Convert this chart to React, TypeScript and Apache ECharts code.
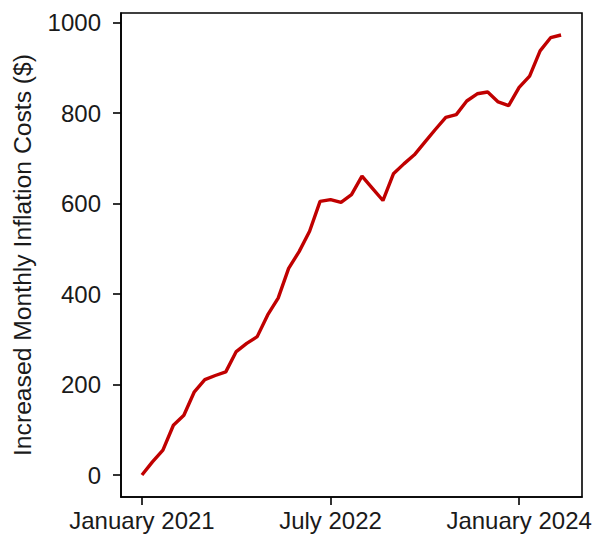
import React, { useEffect, useRef } from "react";
import * as echarts from "echarts";

// Monthly observations, January 2021 – May 2024
const months: string[] = [
  "2021-01", "2021-02", "2021-03", "2021-04", "2021-05", "2021-06", "2021-07", "2021-08", "2021-09", "2021-10", "2021-11", "2021-12",
  "2022-01", "2022-02", "2022-03", "2022-04", "2022-05", "2022-06", "2022-07", "2022-08", "2022-09", "2022-10", "2022-11", "2022-12",
  "2023-01", "2023-02", "2023-03", "2023-04", "2023-05", "2023-06", "2023-07", "2023-08", "2023-09", "2023-10", "2023-11", "2023-12",
  "2024-01", "2024-02", "2024-03", "2024-04", "2024-05",
];

const costs: number[] = [
  0, 29, 55, 110, 132, 184, 211, 220, 228, 273, 291, 306,
  354, 391, 457, 494, 539, 605, 609, 603, 620, 661, 634, 607,
  666, 688, 708, 736, 764, 791, 797, 827, 843, 847, 825, 817,
  857, 882, 938, 967, 973,
];

const xTickMonths: string[] = ["2021-01", "2022-07", "2024-01"];
const xTickLabels: string[] = ["January 2021", "July 2022", "January 2024"];
const yTicks: number[] = [0, 200, 400, 600, 800, 1000];

const yAxisTitle = "Increased Monthly Inflation Costs ($)";

function monthOffset(m: string): number {
  const [y, mo] = m.split("-").map(Number);
  return (y - 2021) * 12 + (mo - 1);
}

export default function App() {
  const ref = useRef<HTMLDivElement>(null);

  useEffect(() => {
    if (!ref.current) return;
    const chart = echarts.init(ref.current, undefined, { renderer: "svg" });
    const font = "'Liberation Sans', Arial, sans-serif";
    const fontSize = 24;
    const textColor = "#1a1a1a";

    const xs = months.map(monthOffset);
    const xMin = xs[0] - (xs[xs.length - 1] - xs[0]) * 0.05;
    const xMax = xs[xs.length - 1] + (xs[xs.length - 1] - xs[0]) * 0.05;
    const yLo = Math.min(...costs);
    const yHi = Math.max(...costs);
    const yMin = yLo - (yHi - yLo) * 0.05;
    const yMax = yHi + (yHi - yLo) * 0.05;
    const xTickVals = xTickMonths.map(monthOffset);

    chart.setOption({
      animation: false,
      backgroundColor: "#ffffff",
      grid: {
        left: 121,
        right: 13,
        top: 13,
        bottom: 39,
        show: true,
        borderColor: "#000000",
        borderWidth: 1.6,
        containLabel: false,
      },
      xAxis: {
        type: "value",
        min: xMin,
        max: xMax,
        splitLine: { show: false },
        axisLine: { show: true, onZero: false, lineStyle: { color: "#000000", width: 1.6 } },
        axisTick: {
          show: true,
          length: 8,
          customValues: xTickVals,
          lineStyle: { color: "#000000", width: 1.6 },
        },
        axisLabel: {
          show: true,
          customValues: xTickVals,
          margin: 11,
          color: textColor,
          fontFamily: font,
          fontSize,
          formatter: (v: number) => {
            const i = xTickVals.indexOf(Math.round(v));
            return i >= 0 ? xTickLabels[i] : "";
          },
        },
      },
      yAxis: {
        type: "value",
        min: yMin,
        max: yMax,
        name: yAxisTitle,
        nameLocation: "middle",
        nameGap: 86,
        nameTextStyle: { color: textColor, fontFamily: font, fontSize: 24.7 },
        splitLine: { show: false },
        axisLine: { show: true, onZero: false, lineStyle: { color: "#000000", width: 1.6 } },
        axisTick: {
          show: true,
          length: 8,
          customValues: yTicks,
          lineStyle: { color: "#000000", width: 1.6 },
        },
        axisLabel: {
          show: true,
          customValues: yTicks,
          margin: 20,
          color: textColor,
          fontFamily: font,
          fontSize,
          formatter: (v: number) => String(Math.round(v)),
        },
      },
      series: [
        {
          type: "line",
          data: months.map((m, i) => [monthOffset(m), costs[i]]),
          showSymbol: false,
          symbol: "none",
          lineStyle: { color: "#c00000", width: 3.4 },
          itemStyle: { color: "#c00000" },
        },
      ],
    });

    return () => chart.dispose();
  }, []);

  return (
    <div
      ref={ref}
      style={{ position: "fixed", left: 0, top: 0, width: 595, height: 536 }}
    />
  );
}
